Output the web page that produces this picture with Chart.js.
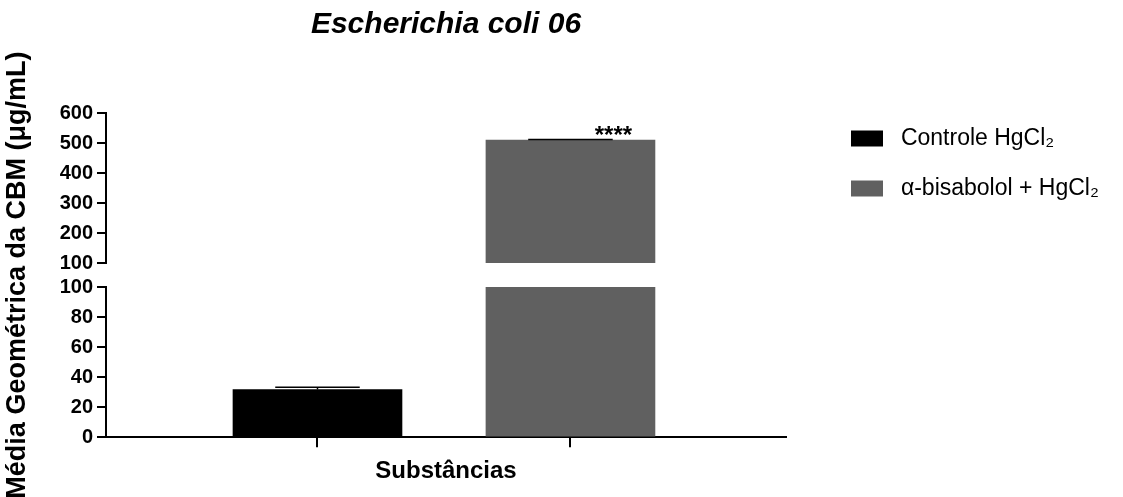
<!DOCTYPE html>
<html><head><meta charset="utf-8">
<script src="https://cdn.jsdelivr.net/npm/chart.js@4/dist/chart.umd.min.js"></script>
<style>html,body{margin:0;padding:0;background:#fff;}</style>
</head><body>
<canvas id="c" width="1123" height="497"></canvas>
<script>
const chartTitle = 'Escherichia coli 06';
const yAxisTitle = 'Média Geométrica da CBM (μg/mL)';
const xAxisTitle = 'Substâncias';
const categories = ['Controle HgCl₂', 'α-bisabolol + HgCl₂'];
const means = [31.7, 510];
const errors = [1.5, 2];
const significance = ['', '****'];
const lowerTicks = [0, 20, 40, 60, 80, 100];
const upperTicks = [100, 200, 300, 400, 500, 600];
const barColors = ['#000000', '#606060'];

const breakAt = lowerTicks[lowerTicks.length - 1];
const FONT = "'Liberation Sans', Arial, sans-serif";
const BAR_W = 169;
const LEGEND_W = 299;
Chart.defaults.font.family = FONT;
Chart.defaults.color = '#000';

const datasets = categories.map((c, i) => ({
  label: c,
  data: [{x: i, y: Math.min(means[i], breakAt)}],
  backgroundColor: barColors[i],
  yAxisID: 'y'
}));
categories.forEach((c, i) => {
  if (means[i] > breakAt) {
    datasets.push({
      label: c, upper: true,
      data: [{x: i, y: [breakAt, means[i]]}],
      backgroundColor: barColors[i],
      yAxisID: 'y2'
    });
  }
});

const errorBars = {
  id: 'errorBars',
  afterDatasetsDraw(chart) {
    const ctx = chart.ctx, xs = chart.scales.x;
    categories.forEach((c, i) => {
      const ys = means[i] > breakAt ? chart.scales.y2 : chart.scales.y;
      const x = xs.getPixelForValue(i);
      const yTop = ys.getPixelForValue(means[i]);
      const yErr = ys.getPixelForValue(means[i] + errors[i]);
      const half = BAR_W / 4;
      ctx.save();
      ctx.strokeStyle = '#000';
      ctx.lineWidth = 1.5;
      ctx.beginPath();
      ctx.moveTo(x, yTop); ctx.lineTo(x, yErr);
      ctx.moveTo(x - half, yErr); ctx.lineTo(x + half, yErr);
      ctx.stroke();
      if (significance[i]) {
        ctx.fillStyle = '#000';
        ctx.font = 'bold 24px ' + FONT;
        ctx.textAlign = 'center';
        ctx.textBaseline = 'alphabetic';
        ctx.fillText(significance[i], x + 43, yErr + 4);
      }
      ctx.restore();
    });
  }
};

const legendWidthFix = {
  id: 'legendWidthFix',
  beforeLayout(chart) {
    const lg = chart.legend;
    if (lg && !lg._fixedW) {
      const f = lg.fit;
      lg.fit = function () { f.call(this); this.width = LEGEND_W; };
      lg._fixedW = true;
    }
  }
};

const tickFont = {size: 20, weight: 'bold'};
const axisGrid = {display: true, offset: false, drawOnChartArea: false, drawTicks: true, tickLength: 9, tickWidth: 2, lineWidth: 2, color: '#000', tickColor: '#000'};

new Chart(document.getElementById('c'), {
  type: 'bar',
  data: {datasets},
  plugins: [errorBars, legendWidthFix],
  options: {
    responsive: false,
    animation: false,
    layout: {padding: 0},
    datasets: {bar: {grouped: false, barThickness: BAR_W, borderWidth: 0}},
    plugins: {
      tooltip: {enabled: false},
      title: {
        display: true, text: chartTitle, fullSize: false,
        font: {size: 30, weight: 'bold', style: 'italic'},
        color: '#000', padding: {top: 7, bottom: 70}
      },
      legend: {
        position: 'right', align: 'start', maxWidth: LEGEND_W,
        title: {display: true, text: '', font: {size: 10}, padding: {top: 88, bottom: 0}},
        labels: {
          boxWidth: 32, boxHeight: 16, padding: 27, color: '#000', font: {size: 23},
          filter: (item, data) => !data.datasets[item.datasetIndex].upper,
          generateLabels: chart => Chart.defaults.plugins.legend.labels.generateLabels(chart)
            .map(l => Object.assign({}, l, {text: ' ' + l.text, lineWidth: 0}))
        }
      }
    },
    scales: {
      x: {
        type: 'linear', min: -0.836, max: 1.852, offset: false,
        afterBuildTicks: s => { s.ticks = categories.map((_, i) => ({value: i})); },
        ticks: {display: false, autoSkip: false},
        grid: Object.assign({}, axisGrid, {tickLength: 10}),
        border: {display: true, color: '#000', width: 2},
        title: {display: true, text: xAxisTitle, font: {size: 24, weight: 'bold'}, color: '#000', padding: {top: 10, bottom: 11}}
      },
      y2: {
        type: 'linear', position: 'left', stack: 'ybreak', stackWeight: 150, weight: 3,
        min: upperTicks[0], max: upperTicks[upperTicks.length - 1],
        afterBuildTicks: s => { s.ticks = upperTicks.map(v => ({value: v})); },
        ticks: {font: tickFont, padding: 4, color: '#000', autoSkip: false},
        grid: axisGrid,
        border: {display: true, color: '#000', width: 2}
      },
      ygap: {
        type: 'linear', position: 'left', stack: 'ybreak', stackWeight: 24, weight: 2,
        min: 0, max: 1,
        ticks: {display: false},
        grid: {display: false, drawTicks: false, drawOnChartArea: false},
        border: {display: false},
        title: {display: true, text: yAxisTitle, font: {size: 27, weight: 'bold'}, color: '#000', padding: {top: 1, bottom: 72.6}}
      },
      y: {
        type: 'linear', position: 'left', stack: 'ybreak', stackWeight: 150, weight: 1,
        min: lowerTicks[0], max: lowerTicks[lowerTicks.length - 1],
        afterBuildTicks: s => { s.ticks = lowerTicks.map(v => ({value: v})); },
        ticks: {font: tickFont, padding: 4, color: '#000', autoSkip: false},
        grid: axisGrid,
        border: {display: true, color: '#000', width: 2}
      },
      spacer: {
        type: 'linear', axis: 'y', position: 'right', display: false,
        afterFit: s => { s.width = 38; }
      }
    }
  }
});
</script>
</body></html>
